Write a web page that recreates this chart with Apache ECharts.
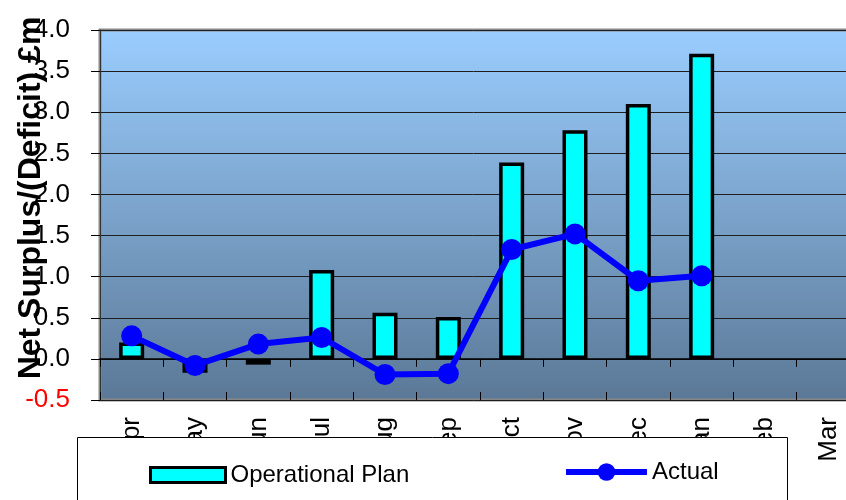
<!DOCTYPE html>
<html>
<head>
<meta charset="utf-8">
<script src="https://cdn.jsdelivr.net/npm/echarts@6/dist/echarts.min.js"></script>
<style>
  html, body { margin: 0; padding: 0; background: #ffffff; }
  #chart { width: 846px; height: 500px; }
</style>
</head>
<body>
<div id="chart"></div>
<script>
// Monthly net surplus / (deficit), £m
const months = ['Apr', 'May', 'Jun', 'Jul', 'Aug', 'Sep', 'Oct', 'Nov', 'Dec', 'Jan', 'Feb', 'Mar'];
const operationalPlan = [0.20, -0.17, -0.07, 1.08, 0.56, 0.51, 2.39, 2.78, 3.10, 3.71, null, null];
const actual = [0.28, -0.08, 0.18, 0.26, -0.19, -0.18, 1.33, 1.52, 0.95, 1.01, null, null];
const yTicks = { min: -0.5, max: 4.0, step: 0.5 };

const FONT = "'Liberation Sans', Arial, sans-serif";

const chart = echarts.init(document.getElementById('chart'), null, { renderer: 'canvas' });

const option = {
  animation: false,
  backgroundColor: '#ffffff',
  grid: {
    // plot area runs past the right edge of the page
    left: 100, top: 30, width: 760, bottom: 100,
    outerBoundsMode: 'none',
    containLabel: false,
    show: true,
    borderColor: '#888888',
    borderWidth: 3,
    backgroundColor: new echarts.graphic.LinearGradient(0, 0, 0, 1, [
      { offset: 0, color: '#9ACDFF' },
      { offset: 1, color: '#5B7896' }
    ])
  },
  xAxis: [
    {
      // axis line through zero, ticks pointing down
      type: 'category', data: months, position: 'bottom',
      axisLine: { show: true, onZero: true, lineStyle: { color: '#000', width: 1.5 } },
      axisTick: { show: true, inside: false, length: 8, lineStyle: { color: '#000', width: 1 } },
      axisLabel: { show: false },
      splitLine: { show: false }
    },
    {
      // upward half of the crossing ticks
      type: 'category', data: months, position: 'bottom',
      axisLine: { show: false, onZero: true },
      axisTick: { show: true, inside: true, length: 8, lineStyle: { color: '#000', width: 1 } },
      axisLabel: { show: false },
      splitLine: { show: false }
    },
    {
      // month labels under the plot
      type: 'category', data: months, position: 'bottom',
      axisLine: { show: false, onZero: false },
      axisTick: { show: false },
      axisLabel: {
        show: true, rotate: 90, margin: 17,
        fontFamily: FONT, fontSize: 26, color: '#000'
      },
      splitLine: { show: false }
    }
  ],
  yAxis: {
    type: 'value',
    min: yTicks.min, max: yTicks.max, interval: yTicks.step,
    axisLine: { show: true, lineStyle: { color: '#333', width: 1 } },
    axisTick: { show: true, inside: false, length: 9, lineStyle: { color: '#000' } },
    axisLabel: {
      margin: 30,
      fontFamily: FONT, fontSize: 26,
      formatter: v => v.toFixed(1),
      color: v => (Number(v) < 0 ? '#FF0000' : '#000000')
    },
    splitLine: { show: true, lineStyle: { color: '#1e1e1e', width: 1 } }
  },
  legend: [
    {
      data: ['Operational Plan'],
      left: 144, top: 458,
      icon: 'rect',
      itemWidth: 75, itemHeight: 15,
      itemStyle: { borderColor: '#000', borderWidth: 3 },
      textStyle: { fontFamily: FONT, fontSize: 24, color: '#000' },
      z: 60
    },
    {
      data: ['Actual'],
      left: 558, top: 455,
      itemWidth: 81, itemHeight: 22,
      lineStyle: { width: 6 },
      textStyle: { fontFamily: FONT, fontSize: 24, color: '#000' },
      z: 60
    }
  ],
  graphic: [
    {
      type: 'rect', z: 50,
      shape: { x: 77.5, y: 437.5, width: 710, height: 80 },
      style: { fill: '#ffffff', stroke: '#000000', lineWidth: 1 }
    },
    {
      type: 'text', z: 50,
      x: 31, y: 198, rotation: Math.PI / 2,
      style: {
        text: 'Net Surplus/(Deficit) £m',
        fontFamily: FONT, fontSize: 32, fontWeight: 'bold',
        fill: '#000', align: 'center', verticalAlign: 'middle'
      }
    }
  ],
  series: [
    {
      name: 'Operational Plan',
      type: 'bar',
      xAxisIndex: 0, yAxisIndex: 0,
      data: operationalPlan,
      barWidth: 25,
      itemStyle: { color: '#00FFFF', borderColor: '#000000', borderWidth: 3.5 }
    },
    {
      name: 'Actual',
      type: 'line',
      xAxisIndex: 0, yAxisIndex: 0,
      data: actual,
      symbol: 'circle', symbolSize: 21,
      lineStyle: { color: '#0000FF', width: 6 },
      itemStyle: { color: '#0000FF' }
    }
  ]
};

chart.setOption(option);
</script>
</body>
</html>
